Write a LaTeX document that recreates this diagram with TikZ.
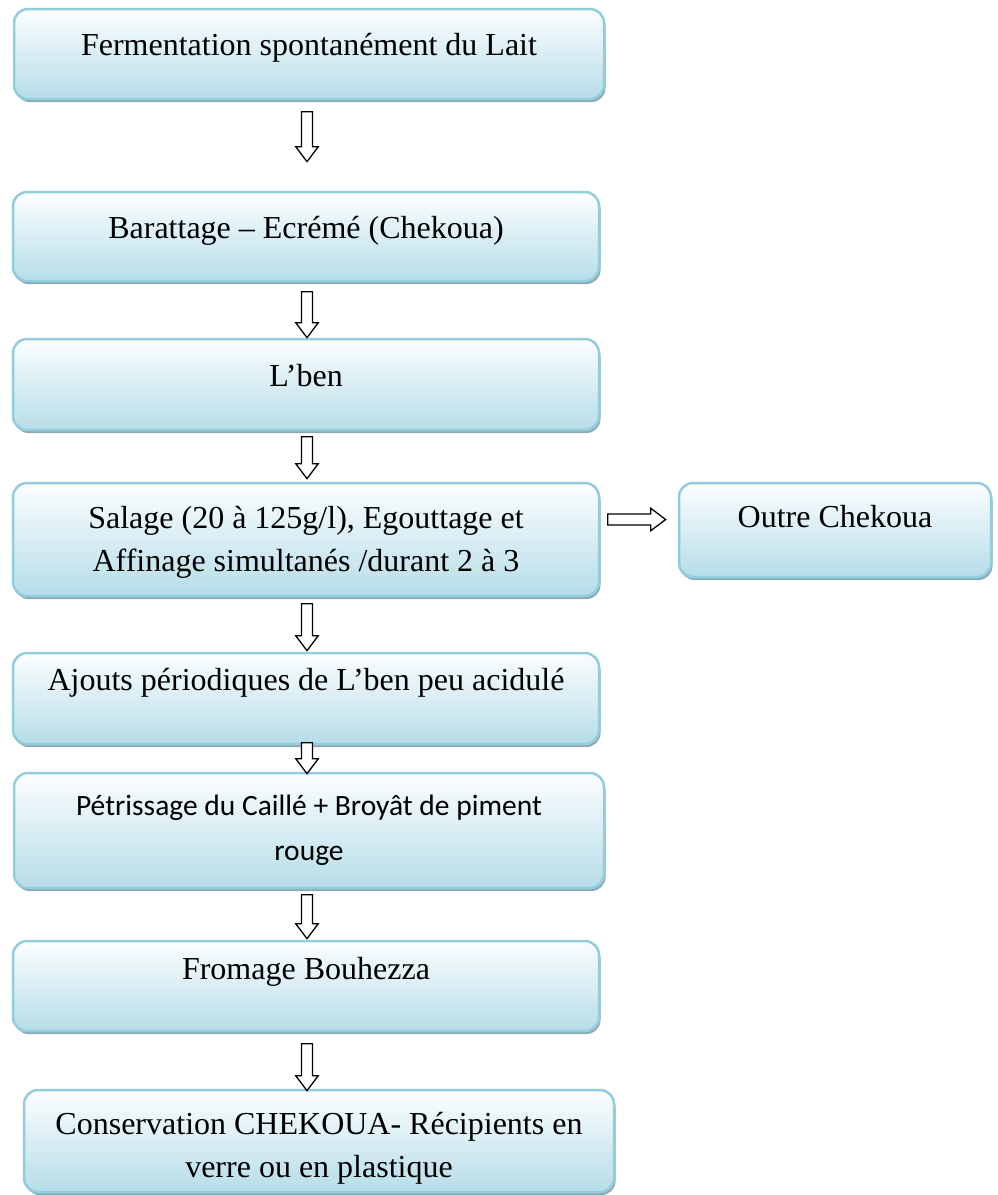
\documentclass[tikz,border=0pt]{standalone}
\usepackage{fontspec}
\setmainfont{Liberation Serif}
\newfontfamily\calfont{Carlito}
\usetikzlibrary{shapes.arrows,shadows}
\definecolor{bordc}{RGB}{146,205,220}
\definecolor{filltop}{RGB}{252,254,255}
\definecolor{fillbot}{RGB}{182,221,232}
\definecolor{shadc}{RGB}{140,168,178}
\tikzset{
  flowbox/.style={rectangle, rounded corners=14pt, draw=bordc, line width=2.5pt,
    top color=filltop, bottom color=fillbot, inner sep=0pt,
    drop shadow={shadow xshift=1.5pt, shadow yshift=-3pt, fill=shadc, opacity=1}},
  flowtext/.style={anchor=base, align=center, inner sep=0pt,
    font=\fontsize{32}{43}\selectfont},
  flowarrow/.style={single arrow, draw=black, fill=white, line width=1.3pt,
    single arrow head extend=5.8pt, single arrow tip angle=74,
    inner xsep=0pt, inner ysep=4.8pt, anchor=tail}
}
\begin{document}
\begin{tikzpicture}[x=1pt,y=1pt]
\useasboundingbox (0,0) rectangle (997,-1195);
% boxes
\node[flowbox, minimum width=590pt, minimum height=90pt] (b1) at (309,-54) {};
\node[flowbox, minimum width=586pt, minimum height=89pt] (b2) at (306,-236.5) {};
\node[flowbox, minimum width=586pt, minimum height=91pt] (b3) at (306,-384.5) {};
\node[flowbox, minimum width=586pt, minimum height=113pt] (b4) at (306,-539.5) {};
\node[flowbox, minimum width=312pt, minimum height=94pt] (b5) at (835,-530) {};
\node[flowbox, minimum width=586pt, minimum height=91pt] (b6) at (306,-698.5) {};
\node[flowbox, minimum width=590pt, minimum height=115pt] (b7) at (309,-830.5) {};
\node[flowbox, minimum width=586pt, minimum height=90pt] (b8) at (306,-986) {};
\node[flowbox, minimum width=590pt, minimum height=102pt] (b9) at (319,-1141) {};
% texts
\node[flowtext] (t1) at (309,-55) {Fermentation spontanément du Lait};
\node[flowtext] (t2) at (306,-238) {Barattage – Ecrémé (Chekoua)};
\node[flowtext] (t3) at (306,-386) {L’ben};
\node[flowtext] (t4) at (306,-571) {Salage (20 à 125g/l), Egouttage et\\Affinage simultanés /durant 2 à 3};
\node[flowtext] (t5) at (835,-527) {Outre Chekoua};
\node[flowtext] (t6) at (306,-690) {Ajouts périodiques de L’ben peu acidulé};
\node[flowtext, font=\calfont\fontsize{29.5}{45}\selectfont] (t7) at (309,-860) {Pétrissage du Caillé + Broyât de piment\\rouge};
\node[flowtext] (t8) at (306,-979) {Fromage Bouhezza};
\node[flowtext] (t9) at (319,-1177) {Conservation CHEKOUA- Récipients en\\verre ou en plastique};
% arrows
\node[flowarrow, rotate=-90, minimum height=50pt] (a1) at (307,-111) {};
\node[flowarrow, rotate=-90, minimum height=46pt] (a2) at (307,-291) {};
\node[flowarrow, rotate=-90, minimum height=42pt] (a3) at (307,-436) {};
\node[flowarrow, rotate=-90, minimum height=47pt] (a4) at (307,-603) {};
\node[flowarrow, rotate=-90, minimum height=31pt] (a5) at (307,-742) {};
\node[flowarrow, rotate=-90, minimum height=44pt] (a6) at (307,-894) {};
\node[flowarrow, rotate=-90, minimum height=47pt] (a7) at (307,-1043) {};
\node[flowarrow, minimum height=58pt] (a8) at (607,-519.5) {};
\end{tikzpicture}
\end{document}
